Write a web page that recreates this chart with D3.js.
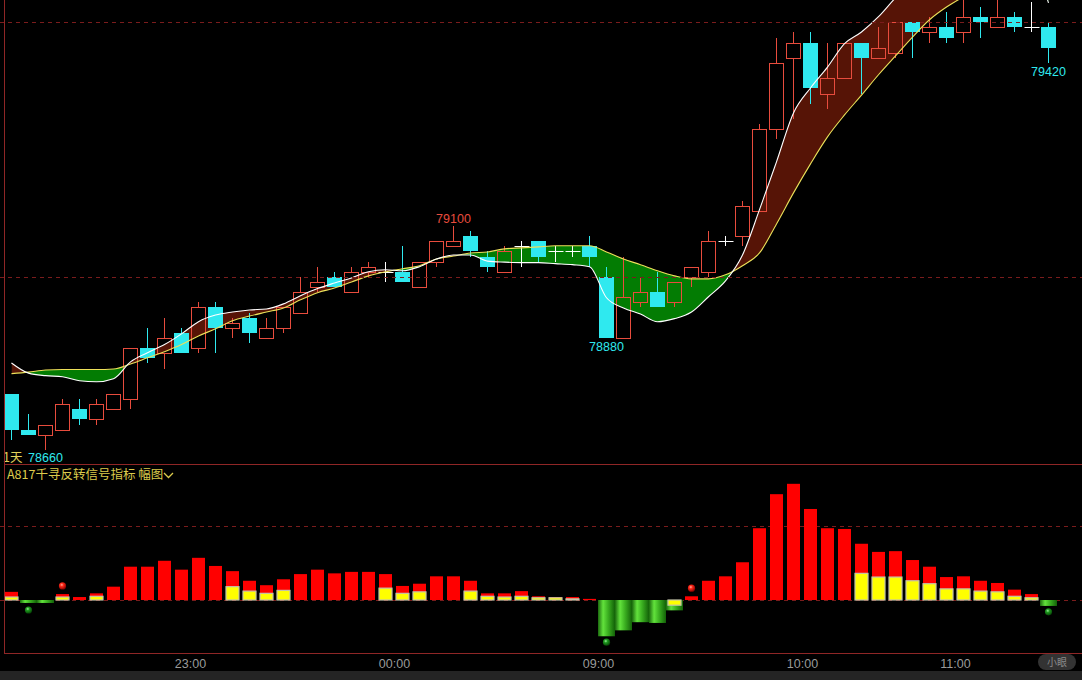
<!DOCTYPE html>
<html><head><meta charset="utf-8">
<script src="https://cdn.jsdelivr.net/npm/d3@7"></script>
<style>
html,body{margin:0;padding:0;background:#000;overflow:hidden}
svg{display:block}
</style></head><body>
<svg id="c" width="1082" height="680"></svg>
<script>
// ---------- DATA ----------
const opens  = [78770,78700,78690,78700,78740,78720,78740,78760,78860,78850,78890,78860,78940,78900,78920,78880,78900,78930,78980,79000,78970,79010,79010,79010,78980,79030,79060,79080,79040,79010,79060,79070,79050,79050,79060,79000,78880,78950,78970,78950,79000,79010,79070,79080,79130,79290,79430,79460,79360,79390,79460,79430,79440,79500,79480,79490,79480,79510,79490,79510,79490,79490];
const highs  = [78770,78730,78710,78760,78760,78760,78770,78860,78900,78920,78900,78950,78950,78920,78930,78920,78940,79000,79020,79010,79020,79030,79030,79060,79030,79070,79100,79090,79050,79060,79070,79070,79060,79060,79080,79020,79040,79000,79010,78990,79020,79090,79080,79150,79300,79470,79480,79480,79460,79460,79460,79490,79500,79500,79510,79520,79560,79530,79560,79520,79540,79500];
const lows   = [78680,78690,78660,78700,78710,78710,78740,78740,78830,78820,78850,78850,78850,78880,78870,78880,78890,78930,78970,78980,78970,79000,78990,78990,78980,79020,79060,79040,79010,79010,79020,79030,79030,79040,79020,78880,78880,78940,78940,78940,78980,79000,79060,79060,79130,79270,79310,79340,79330,79390,79360,79430,79430,79430,79460,79460,79460,79470,79490,79480,79480,79420];
const closes = [78700,78690,78710,78750,78720,78750,78770,78860,78840,78880,78850,78940,78900,78910,78890,78900,78940,78970,78990,78980,79010,79020,79010,78990,79030,79070,79070,79050,79020,79050,79060,79040,79050,79050,79040,78880,78960,78970,78940,78990,79020,79070,79070,79140,79290,79420,79460,79370,79390,79460,79430,79450,79500,79480,79490,79470,79510,79500,79510,79490,79490,79450];
// fast (white) and slow (yellow) average lines
const fastLine = [78831,78811,78806,78804,78796,78794,78800,78833,78851,78867,78888,78912,78925,78931,78935,78937,78947,78963,78977,78988,78998,79010,79014,79012,79020,79035,79043,79043,79031,79029,79028,79028,79026,79024,79020,78959,78939,78927,78912,78918,78931,78961,78992,79043,79132,79226,79322,79371,79412,79458,79481,79511,79548,79579,79603,79623,79634,79642,79642,79638,79623,79538];
const slowLine = [78810,78813,78817,78818,78818,78818,78819,78829,78841,78853,78867,78884,78898,78914,78923,78931,78939,78955,78969,78978,78990,79002,79010,79016,79022,79035,79041,79047,79049,79055,79057,79059,79061,79061,79061,79049,79035,79024,79012,79002,78996,78996,79004,79022,79047,79104,79165,79222,79275,79318,79357,79397,79434,79471,79505,79530,79550,79568,79583,79595,79605,79613];
// lower panel indicator
const barValues = [11,-4,-4,8,4,9,18,45,45,53,41,57,46,39,26,20,28,35,41,36,38,38,35,19,22,32,32,26,9,9,12,5,4,4,1.5,-49,-41,-30,-31,-14,5,26,32,51,97,143,157,123,97,96,76,65,66,54,45,31,32,26,23,14,8,-8];
const yellowValues = [4,0,0,4,0,5,0,0,0,0,0,0,0,18,12,9,13,0,0,0,0,0,16,9,11,0,0,12,5,4,5,3,3,1.5,0,0,0,0,0,-7,0,0,0,0,0,0,0,0,0,0,36,31,31,26,22,15,15,12,11,5,3,0];
const redDotIdx = [3,40],      redDotVal = [19,16];
const greenDotIdx = [1,35,61], greenDotVal = [-13.5,-57,-16];
// labels
const priceGrid = [79000,79500];
const lowGrid = [0,100];
const highMarkIdx = [26];
const lowMarkIdx = [2,35,61];
const timeTickPos = [10.5,22.5,34.5,46.5,55.5];
const timeTickLabels = ["23:00","00:00","09:00","10:00","11:00"];
const panelTitle = "A817千寻反转信号指标 幅图";
const periodLabel = "1天";

// ---------- SETUP ----------
const W=1082,H=680;
const LEFT=4, MAIN_B=464, LOW_B=653;
const svg=d3.select("#c");
const RED="#e84c3d", CYAN="#2fe9ef", BORDER="#8f2626", GRID="#7a1c1c";
const n=opens.length, idx=d3.range(n);
const x=d3.scaleLinear().domain([0,61]).range([11.5,11.5+17*61]);
const y=d3.scaleLinear().domain([78660,79500]).range([450,22.3]);
const yl=d3.scaleLinear().domain([0,100]).range([600,526]);

svg.append("rect").attr("width",W).attr("height",H).attr("fill","#000");
const defs=svg.append("defs");
defs.append("clipPath").attr("id","cMain").append("rect").attr("x",LEFT+1).attr("y",0).attr("width",W-LEFT).attr("height",MAIN_B);
defs.append("clipPath").attr("id","cLow").append("rect").attr("x",LEFT+1).attr("y",MAIN_B+1).attr("width",W-LEFT).attr("height",LOW_B-MAIN_B-1);

const curve=d3.curveMonotoneX;
const aboveSlow=d3.area().curve(curve).x(i=>x(i)).y0(i=>y(slowLine[i])).y1(-2000);
const belowSlow=d3.area().curve(curve).x(i=>x(i)).y0(i=>y(slowLine[i])).y1(3000);
defs.append("clipPath").attr("id","cAbove").append("path").attr("d",aboveSlow(idx));
defs.append("clipPath").attr("id","cBelow").append("path").attr("d",belowSlow(idx));

// grid lines
const gMain=svg.append("g").attr("clip-path","url(#cMain)");
svg.append("g").selectAll("line").data(priceGrid).join("line")
  .attr("x1",0).attr("x2",W).attr("y1",d=>Math.round(y(d))+0.5).attr("y2",d=>Math.round(y(d))+0.5)
  .attr("stroke",GRID).attr("stroke-dasharray","4,4");
svg.append("g").selectAll("line").data(lowGrid).join("line")
  .attr("x1",0).attr("x2",W).attr("y1",d=>Math.round(yl(d))+0.5).attr("y2",d=>Math.round(yl(d))+0.5)
  .attr("stroke",GRID).attr("stroke-dasharray","4,4");

// fills between the two lines
const band=d3.area().curve(curve).x(i=>x(i)).y0(i=>y(slowLine[i])).y1(i=>y(fastLine[i]));
gMain.append("g").attr("clip-path","url(#cAbove)").append("path").attr("d",band(idx)).attr("fill","#561406");
gMain.append("g").attr("clip-path","url(#cBelow)").append("path").attr("d",band(idx)).attr("fill","#037c03");

// candles
const gC=gMain.append("g");
idx.forEach(i=>{
  const o=opens[i],c=closes[i],h=highs[i],l=lows[i];
  const cx=x(i);
  const yh=Math.round(y(h)), yl_=Math.round(y(l));
  const yt=Math.round(y(Math.max(o,c))), yb=Math.round(y(Math.min(o,c)));
  if(o===c){
    gC.append("line").attr("x1",cx-7).attr("x2",cx+8).attr("y1",yt+0.5).attr("y2",yt+0.5).attr("stroke","#fff");
    gC.append("line").attr("x1",cx).attr("x2",cx).attr("y1",yh).attr("y2",yl_).attr("stroke","#fff");
  } else if(c>o){
    gC.append("line").attr("x1",cx).attr("x2",cx).attr("y1",yh).attr("y2",yt).attr("stroke",RED);
    gC.append("line").attr("x1",cx).attr("x2",cx).attr("y1",yb).attr("y2",yl_).attr("stroke",RED);
    gC.append("rect").attr("x",cx-7).attr("y",yt+0.5).attr("width",14).attr("height",Math.max(1,yb-yt))
      .attr("fill","none").attr("stroke",RED);
  } else {
    gC.append("line").attr("x1",cx).attr("x2",cx).attr("y1",yh).attr("y2",yl_).attr("stroke",CYAN);
    gC.append("rect").attr("x",cx-7.5).attr("y",yt).attr("width",15).attr("height",Math.max(1,yb-yt)).attr("fill",CYAN);
  }
});

// lines
const lineF=d3.line().curve(curve).x(i=>x(i)).y(i=>y(fastLine[i]));
const lineS=d3.line().curve(curve).x(i=>x(i)).y(i=>y(slowLine[i]));
gMain.append("path").attr("d",lineS(idx)).attr("fill","none").attr("stroke","#ede05a").attr("stroke-width",1.1);
gMain.append("path").attr("d",lineF(idx)).attr("fill","none").attr("stroke","#ffffff").attr("stroke-width",1.1);

// price marks
const fontNum="'Liberation Sans', Arial, sans-serif";
svg.append("g").selectAll("text").data(highMarkIdx).join("text")
  .attr("x",i=>x(i)).attr("y",i=>y(highs[i])-3).attr("text-anchor","middle")
  .attr("fill",RED).attr("font-family",fontNum).attr("font-size","12.5px").text(i=>highs[i]);
svg.append("g").selectAll("text").data(lowMarkIdx).join("text")
  .attr("x",i=>x(i)).attr("y",i=>Math.min(y(lows[i])+13,462)).attr("text-anchor","middle")
  .attr("fill",CYAN).attr("font-family",fontNum).attr("font-size","12.5px").text(i=>lows[i]);
svg.append("text").attr("x",3).attr("y",462).attr("fill","#e2d25c")
  .attr("font-family","'Noto Sans CJK SC', sans-serif").attr("font-size","12.5px").text(periodLabel);

// ---------- LOWER PANEL ----------
const gr=defs.append("linearGradient").attr("id","gGreen").attr("x1","0").attr("x2","1").attr("y1","0").attr("y2","0");
[[0,"#1b6a0e"],[0.3,"#62e23c"],[0.6,"#3aae20"],[1,"#136208"]].forEach(s=>gr.append("stop").attr("offset",s[0]).attr("stop-color",s[1]));
const rg=defs.append("radialGradient").attr("id","gRedDot").attr("cx","0.4").attr("cy","0.35").attr("r","0.65");
[[0,"#ffb0a0"],[0.35,"#ff2a1a"],[1,"#8a0000"]].forEach(s=>rg.append("stop").attr("offset",s[0]).attr("stop-color",s[1]));
const gg=defs.append("radialGradient").attr("id","gGreenDot").attr("cx","0.4").attr("cy","0.35").attr("r","0.65");
[[0,"#a0f0a0"],[0.35,"#1f9a1f"],[1,"#064806"]].forEach(s=>gg.append("stop").attr("offset",s[0]).attr("stop-color",s[1]));

const gLow=svg.append("g").attr("clip-path","url(#cLow)");
const z=yl(0);
gLow.selectAll("rect.pos").data(idx.filter(i=>barValues[i]>0)).join("rect").attr("class","pos")
  .attr("x",i=>x(i)-6.5).attr("width",13)
  .attr("y",i=>yl(barValues[i])).attr("height",i=>z-yl(barValues[i])).attr("fill","#ff0000");
gLow.selectAll("rect.neg").data(idx.filter(i=>barValues[i]<0)).join("rect").attr("class","neg")
  .attr("x",i=>x(i)-8.5).attr("width",17)
  .attr("y",z).attr("height",i=>yl(barValues[i])-z).attr("fill","url(#gGreen)");
gLow.selectAll("rect.yel").data(idx.filter(i=>yellowValues[i]!==0)).join("rect").attr("class","yel")
  .attr("x",i=>x(i)-6.5).attr("width",13)
  .attr("y",i=>Math.min(yl(yellowValues[i]),z)).attr("height",i=>Math.abs(z-yl(yellowValues[i])))
  .attr("fill","#ffff00").attr("stroke","#c4c4aa").attr("stroke-width",1.2);
gLow.selectAll("circle.r").data(redDotIdx).join("circle").attr("class","r")
  .attr("cx",(d)=>x(d)).attr("cy",(d,k)=>yl(redDotVal[k])).attr("r",3.6).attr("fill","url(#gRedDot)");
gLow.selectAll("circle.g").data(greenDotIdx).join("circle").attr("class","g")
  .attr("cx",(d)=>x(d)).attr("cy",(d,k)=>yl(greenDotVal[k])).attr("r",3.6).attr("fill","url(#gGreenDot)");

// title
svg.append("text").attr("x",7).attr("y",479).attr("fill","#dccb4c")
  .attr("font-family","'Noto Sans CJK SC', sans-serif").attr("font-size","12.5px").text(panelTitle);
svg.append("path").attr("d","M164,473 L168.5,477.5 L173,473").attr("fill","none").attr("stroke","#dccb4c").attr("stroke-width",1.3);

// borders
svg.append("line").attr("x1",LEFT+0.5).attr("x2",LEFT+0.5).attr("y1",0).attr("y2",LOW_B).attr("stroke",BORDER);
svg.append("line").attr("x1",LEFT).attr("x2",W).attr("y1",MAIN_B+0.5).attr("y2",MAIN_B+0.5).attr("stroke",BORDER);
svg.append("line").attr("x1",LEFT).attr("x2",W).attr("y1",LOW_B+0.5).attr("y2",LOW_B+0.5).attr("stroke",BORDER);

// time axis
const ax=d3.axisBottom(x).tickValues(timeTickPos).tickFormat((d,k)=>timeTickLabels[k]).tickSize(0).tickPadding(3);
const gAx=svg.append("g").attr("transform","translate(0,656)").call(ax);
gAx.select(".domain").remove();
gAx.selectAll("text").attr("fill","#9a9a9a").attr("font-family",fontNum).attr("font-size","12.5px");

// bottom strip & small button
svg.append("rect").attr("x",0).attr("y",671).attr("width",W).attr("height",9).attr("fill","#242424");
svg.append("rect").attr("x",1038).attr("y",654).attr("width",38).attr("height",16).attr("rx",8).attr("fill","#333");
svg.append("text").attr("x",1057).attr("y",666).attr("text-anchor","middle").attr("fill","#8a8a8a")
  .attr("font-family","'Noto Sans CJK SC', sans-serif").attr("font-size","10px").text("小眼");
</script>
</body></html>
